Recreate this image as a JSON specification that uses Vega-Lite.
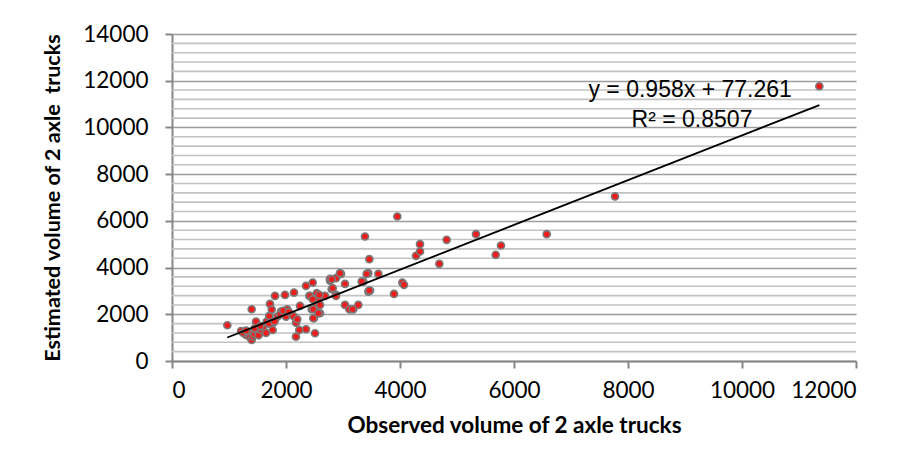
{
  "$schema": "https://vega.github.io/schema/vega-lite/v6.json",
  "width": 684,
  "height": 327,
  "autosize": "none",
  "padding": {"left": 172, "top": 34, "right": 48, "bottom": 111},
  "background": "white",
  "config": {"view": {"stroke": null}},
  "layer": [
    {
      "data": {"values": [
        {"minor": 400}, {"minor": 800}, {"minor": 1200}, {"minor": 1600},
        {"minor": 2400}, {"minor": 2800}, {"minor": 3200}, {"minor": 3600},
        {"minor": 4400}, {"minor": 4800}, {"minor": 5200}, {"minor": 5600},
        {"minor": 6400}, {"minor": 6800}, {"minor": 7200}, {"minor": 7600},
        {"minor": 8400}, {"minor": 8800}, {"minor": 9200}, {"minor": 9600},
        {"minor": 10400}, {"minor": 10800}, {"minor": 11200}, {"minor": 11600},
        {"minor": 12400}, {"minor": 12800}, {"minor": 13200}, {"minor": 13600}
      ]},
      "mark": {"type": "rule", "color": "#c2c2c2", "strokeWidth": 1.6},
      "encoding": {
        "y": {"field": "minor", "type": "quantitative"}
      }
    },
    {
      "data": {"values": [
        {"observed": 971, "estimated": 1530}, {"observed": 1211, "estimated": 1286}, {"observed": 1298, "estimated": 1115},
        {"observed": 1250, "estimated": 1200}, {"observed": 1340, "estimated": 1180}, {"observed": 1368, "estimated": 1016},
        {"observed": 1398, "estimated": 900}, {"observed": 1420, "estimated": 1050}, {"observed": 1450, "estimated": 1150},
        {"observed": 1398, "estimated": 2217}, {"observed": 1474, "estimated": 1687}, {"observed": 1500, "estimated": 1300},
        {"observed": 1520, "estimated": 1100}, {"observed": 1573, "estimated": 1329}, {"observed": 1600, "estimated": 1450},
        {"observed": 1661, "estimated": 1687}, {"observed": 1707, "estimated": 1930}, {"observed": 1719, "estimated": 2444},
        {"observed": 1766, "estimated": 1329}, {"observed": 1807, "estimated": 2787}, {"observed": 1777, "estimated": 1642},
        {"observed": 1850, "estimated": 1900}, {"observed": 1912, "estimated": 2114}, {"observed": 1982, "estimated": 2830},
        {"observed": 2023, "estimated": 2217}, {"observed": 2140, "estimated": 2929}, {"observed": 2128, "estimated": 1930},
        {"observed": 2175, "estimated": 1642}, {"observed": 2198, "estimated": 1788}, {"observed": 2246, "estimated": 2358},
        {"observed": 2233, "estimated": 1329}, {"observed": 2351, "estimated": 1358}, {"observed": 2175, "estimated": 1042},
        {"observed": 2351, "estimated": 3216}, {"observed": 2468, "estimated": 3357}, {"observed": 2409, "estimated": 2787},
        {"observed": 2509, "estimated": 1188}, {"observed": 2450, "estimated": 2217}, {"observed": 2491, "estimated": 1831},
        {"observed": 2567, "estimated": 2689}, {"observed": 2539, "estimated": 2358}, {"observed": 2597, "estimated": 2045},
        {"observed": 2684, "estimated": 2787}, {"observed": 2772, "estimated": 3443}, {"observed": 2801, "estimated": 3074},
        {"observed": 2877, "estimated": 3546}, {"observed": 2965, "estimated": 3730}, {"observed": 2877, "estimated": 2830},
        {"observed": 3035, "estimated": 3302}, {"observed": 3035, "estimated": 2401}, {"observed": 3123, "estimated": 2217},
        {"observed": 3181, "estimated": 2217}, {"observed": 3269, "estimated": 2401}, {"observed": 3357, "estimated": 3400},
        {"observed": 3444, "estimated": 3760}, {"observed": 3444, "estimated": 2972}, {"observed": 2772, "estimated": 3516},
        {"observed": 2539, "estimated": 2903}, {"observed": 2584, "estimated": 2830}, {"observed": 2421, "estimated": 2787},
        {"observed": 2468, "estimated": 2646}, {"observed": 3474, "estimated": 3015}, {"observed": 2479, "estimated": 2217},
        {"observed": 2479, "estimated": 1831}, {"observed": 2597, "estimated": 2401}, {"observed": 2567, "estimated": 2045},
        {"observed": 3953, "estimated": 6188}, {"observed": 3386, "estimated": 5330}, {"observed": 3462, "estimated": 4360},
        {"observed": 2947, "estimated": 3760}, {"observed": 3415, "estimated": 3730}, {"observed": 3620, "estimated": 3730},
        {"observed": 3327, "estimated": 3400}, {"observed": 2801, "estimated": 3500}, {"observed": 2819, "estimated": 3120},
        {"observed": 2877, "estimated": 2787}, {"observed": 3462, "estimated": 3015}, {"observed": 4041, "estimated": 3357},
        {"observed": 4070, "estimated": 3260}, {"observed": 3895, "estimated": 2873}, {"observed": 3111, "estimated": 2217},
        {"observed": 3170, "estimated": 2217}, {"observed": 4281, "estimated": 4502}, {"observed": 4351, "estimated": 4688},
        {"observed": 4351, "estimated": 5003}, {"observed": 4690, "estimated": 4159}, {"observed": 4819, "estimated": 5188},
        {"observed": 5333, "estimated": 5431}, {"observed": 5679, "estimated": 4545}, {"observed": 5772, "estimated": 4945},
        {"observed": 6574, "estimated": 5431}, {"observed": 7772, "estimated": 7045}, {"observed": 11357, "estimated": 11762},
        {"observed": 1300, "estimated": 1300}, {"observed": 1450, "estimated": 1400}, {"observed": 1550, "estimated": 1500},
        {"observed": 1700, "estimated": 1600}, {"observed": 1800, "estimated": 1700}, {"observed": 1900, "estimated": 2000},
        {"observed": 2000, "estimated": 1900}, {"observed": 1650, "estimated": 1200}, {"observed": 1750, "estimated": 2200},
        {"observed": 1950, "estimated": 2150}, {"observed": 2050, "estimated": 2100}
      ]},
      "mark": {"type": "point", "shape": "circle", "filled": true, "size": 50, "fill": "#f01c1c", "stroke": "#7a7a7a", "strokeWidth": 1.6, "opacity": 1},
      "encoding": {
        "x": {"field": "observed", "type": "quantitative",
          "scale": {"domain": [0, 12000], "nice": false, "zero": true},
          "axis": {"title": "Observed volume of 2 axle trucks", "values": [0, 2000, 4000, 6000, 8000, 10000, 12000],
            "grid": false, "format": "d", "labelFont": "Lato", "labelFontSize": 22.5, "labelColor": "#000000", "labelPadding": 11,
            "labelOverlap": false,
            "tickSize": 7, "tickColor": "#868686", "tickWidth": 2, "domainColor": "#868686", "domainWidth": 2,
            "titleFont": "Lato", "titleFontSize": 22.5, "titleFontWeight": "bold", "titleColor": "#000000", "titlePadding": 13}},
        "y": {"field": "estimated", "type": "quantitative",
          "scale": {"domain": [0, 14000], "nice": false},
          "axis": {"title": "Estimated volume of 2 axle\u00a0 trucks",
            "values": [0, 2000, 4000, 6000, 8000, 10000, 12000, 14000],
            "format": "d", "labelOverlap": false,
            "grid": true, "gridColor": "#9c9c9c", "gridWidth": 1.6,
            "tickSize": 7, "tickColor": "#868686", "tickWidth": 2, "domainColor": "#868686", "domainWidth": 2,
            "labelFont": "Lato", "labelFontSize": 22.5, "labelColor": "#000000", "labelPadding": 17,
            "titleFont": "Lato", "titleFontSize": 21.5, "titleFontWeight": "bold", "titleColor": "#000000", "titlePadding": 18}}
      }
    },
    {
      "data": {"values": [
        {"observed": 971, "estimated": 1007.5},
        {"observed": 11357, "estimated": 10957.3}
      ]},
      "mark": {"type": "line", "color": "#000000", "strokeWidth": 1.8},
      "encoding": {
        "x": {"field": "observed", "type": "quantitative"},
        "y": {"field": "estimated", "type": "quantitative"}
      }
    },
    {
      "data": {"values": [
        {"observed": 9090, "estimated": 11620, "label": "y = 0.958x + 77.261"},
        {"observed": 9123, "estimated": 10334, "label": "R² = 0.8507"}
      ]},
      "mark": {"type": "text", "font": "Liberation Sans", "fontSize": 23, "color": "#000000", "align": "center", "baseline": "middle"},
      "encoding": {
        "x": {"field": "observed", "type": "quantitative"},
        "y": {"field": "estimated", "type": "quantitative"},
        "text": {"field": "label"}
      }
    }
  ]
}
